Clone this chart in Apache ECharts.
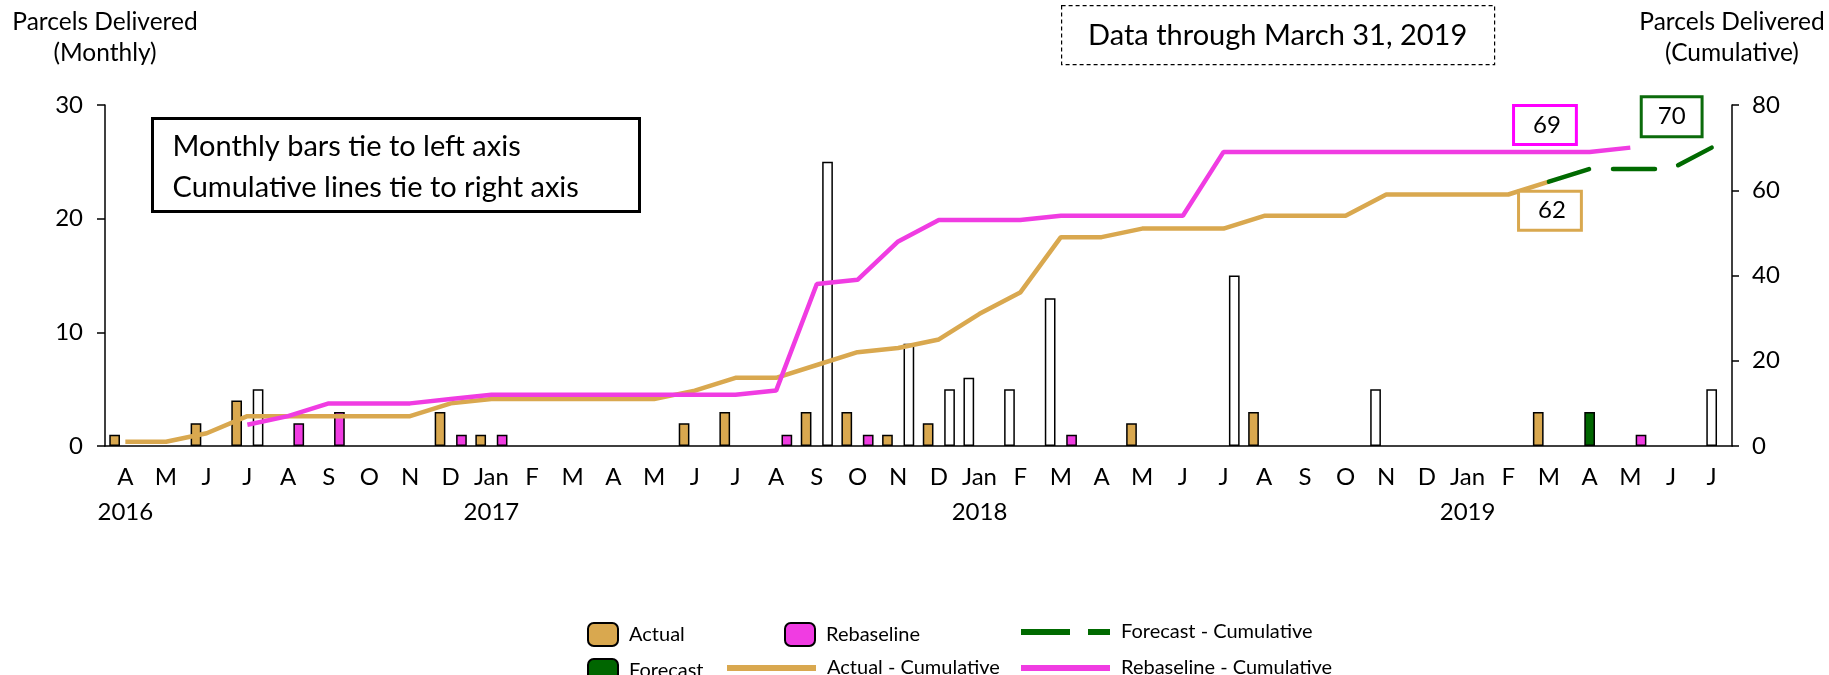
<!DOCTYPE html>
<html>
<head>
<meta charset="utf-8">
<script src="https://cdn.jsdelivr.net/npm/echarts@6/dist/echarts.min.js"></script>
<style>
  html, body { margin: 0; padding: 0; background: #fff; }
  #chart { width: 1829px; height: 675px; }
</style>
</head>
<body>
<div id="chart"></div>
<script>
// Apr 2016 .. Jul 2019
var months = [
  'A','M','J','J','A','S','O','N','D',
  'Jan','F','M','A','M','J','J','A','S','O','N','D',
  'Jan','F','M','A','M','J','J','A','S','O','N','D',
  'Jan','F','M','A','M','J','J'
];
var yearStart = [0, 9, 21, 33];
var yearNames = ['2016', '2017', '2018', '2019'];

// monthly bars (left axis)
var actual = [
  1, null, 2, 4, null, null, null, null, 3,
  1, null, null, null, null, 2, 3, null, 3, 3, 1, 2,
  null, null, null, null, 2, null, null, 3, null, null, null, null,
  null, null, 3, null, null, null, null
];
var actualOpen = [
  null, null, null, null, null, null, null, null, null,
  null, null, null, null, null, null, null, null, null, null, null, null,
  6, 5, 13, null, null, null, null, null, null, null, 5, null,
  null, null, null, null, null, null, null
];
var forecast = [
  null, null, null, null, null, null, null, null, null,
  null, null, null, null, null, null, null, null, null, null, null, null,
  null, null, null, null, null, null, null, null, null, null, null, null,
  null, null, null, 3, null, null, null
];
var forecastOpen = [
  null, null, null, null, null, null, null, null, null,
  null, null, null, null, null, null, null, null, null, null, null, null,
  null, null, null, null, null, null, null, null, null, null, null, null,
  null, null, null, null, null, null, 5
];
var rebaseline = [
  null, null, null, null, 2, 3, null, null, 1,
  1, null, null, null, null, null, null, 1, null, 1, null, null,
  null, null, 1, null, null, null, null, null, null, null, null, null,
  null, null, null, null, 1, null, null
];
var rebaselineOpen = [
  null, null, null, 5, null, null, null, null, null,
  null, null, null, null, null, null, null, null, 25, null, 9, 5,
  null, null, null, null, null, null, 15, null, null, null, null, null,
  null, null, null, null, null, null, null
];

// cumulative lines (right axis)
var actualCum = [
  1, 1, 3, 7, 7, 7, 7, 7, 10,
  11, 11, 11, 11, 11, 13, 16, 16, 19, 22, 23, 25,
  31, 36, 49, 49, 51, 51, 51, 54, 54, 54, 59, 59,
  59, 59, 62, null, null, null, null
];
var rebaselineCum = [
  null, null, null, 5, 7, 10, 10, 10, 11,
  12, 12, 12, 12, 12, 12, 12, 13, 38, 39, 48, 53,
  53, 53, 54, 54, 54, 54, 69, 69, 69, 69, 69, 69,
  69, 69, 69, 69, 70, null, null
];
var forecastCum = [
  null, null, null, null, null, null, null, null, null,
  null, null, null, null, null, null, null, null, null, null, null, null,
  null, null, null, null, null, null, null, null, null, null, null, null,
  null, null, 62, 65, 65, 65, 70
];

var FONT = 'Lato';
var TAN = '#D9A84F', MAGENTA = '#F03CE2', GREEN = '#006600';

function barData(filled, open) {
  return filled.map(function (v, i) {
    if (open[i] != null) return { value: open[i], itemStyle: { color: '#fff' } };
    return v;
  });
}

function boxLabel(color, offset, padding) {
  return {
    show: true, position: 'inside', offset: offset, formatter: '{c}',
    fontFamily: FONT, fontSize: 24, color: '#000', lineHeight: 24,
    backgroundColor: '#fff', borderColor: color, borderWidth: 3, padding: padding
  };
}

function legendAt(name, left, top, w, lineStyle) {
  var lg = {
    data: [name], left: left, top: top, itemWidth: w, itemHeight: 23,
    selectedMode: false,
    textStyle: { fontFamily: FONT, fontSize: 20, color: '#000', padding: [0, 0, 0, 6] }
  };
  if (lineStyle) {
    lg.itemStyle = { opacity: 0 };
    lg.lineStyle = lineStyle;
  }
  return lg;
}

var chart = echarts.init(document.getElementById('chart'));
var option = {
  animation: false,
  textStyle: { fontFamily: FONT },
  grid: { left: 105, right: 97, top: 105, bottom: 229 },
  legend: [
    legendAt('Actual', 582, 617, 30, null),
    legendAt('Rebaseline', 779, 617, 30, null),
    legendAt('Forecast - Cumulative', 1013, 617, 89, { width: 6, type: [49, 18], cap: 'butt' }),
    legendAt('Forecast', 582, 653, 30, null),
    legendAt('Actual - Cumulative', 719, 653, 89, { width: 6 }),
    legendAt('Rebaseline - Cumulative', 1013, 653, 89, { width: 6 })
  ],
  xAxis: {
    type: 'category',
    data: months,
    boundaryGap: true,
    axisLine: { lineStyle: { color: '#000', width: 1.5 } },
    axisTick: { interval: 0, length: 8, lineStyle: { color: '#000', width: 1.5 } },
    axisLabel: {
      interval: 0, margin: 14, color: '#000', fontSize: 24, lineHeight: 35,
      formatter: function (v, i) {
        var k = yearStart.indexOf(i);
        return k >= 0 ? v + '\n' + yearNames[k] : v;
      }
    }
  },
  yAxis: [
    {
      type: 'value', min: 0, max: 30, interval: 10, position: 'left',
      name: 'Parcels Delivered\n(Monthly)', nameLocation: 'end', nameGap: 36,
      nameTextStyle: { fontFamily: FONT, fontSize: 24.5, color: '#000', lineHeight: 31, align: 'center' },
      axisLine: { show: true, lineStyle: { color: '#000', width: 1.5 } },
      axisTick: { show: true, length: 8, lineStyle: { color: '#000', width: 1.5 } },
      axisLabel: { margin: 22, color: '#000', fontSize: 24 },
      splitLine: { show: false }
    },
    {
      type: 'value', min: 0, max: 80, interval: 20, position: 'right',
      name: 'Parcels Delivered\n(Cumulative)', nameLocation: 'end', nameGap: 36,
      nameTextStyle: { fontFamily: FONT, fontSize: 24.5, color: '#000', lineHeight: 31, align: 'center' },
      axisLine: { show: true, lineStyle: { color: '#000', width: 1.5 } },
      axisTick: { show: true, length: 7, lineStyle: { color: '#000', width: 1.5 } },
      axisLabel: { margin: 20, color: '#000', fontSize: 24 },
      splitLine: { show: false }
    }
  ],
  series: [
    {
      name: 'Actual', type: 'bar', yAxisIndex: 0,
      barGap: '0%', barCategoryGap: '21%',
      itemStyle: { color: TAN, borderColor: '#000', borderWidth: 1.5 },
      data: barData(actual, actualOpen)
    },
    {
      name: 'Forecast', type: 'bar', yAxisIndex: 0,
      barGap: '0%', barCategoryGap: '21%',
      itemStyle: { color: GREEN, borderColor: '#000', borderWidth: 1.5 },
      data: barData(forecast, forecastOpen)
    },
    {
      name: 'Rebaseline', type: 'bar', yAxisIndex: 0,
      barGap: '0%', barCategoryGap: '21%',
      itemStyle: { color: MAGENTA, borderColor: '#000', borderWidth: 1.5 },
      data: barData(rebaseline, rebaselineOpen)
    },
    {
      name: 'Actual - Cumulative', type: 'line', yAxisIndex: 1,
      symbol: 'none', z: 3,
      lineStyle: { color: TAN, width: 4.5 },
      itemStyle: { color: TAN },
      data: actualCum,
      markPoint: {
        symbol: 'rect', symbolSize: 1, itemStyle: { color: 'transparent' },
        label: boxLabel(TAN, [1, 29], [6, 14, 6, 18]),
        data: [{ coord: [35, actualCum[35]], value: actualCum[35] }]
      }
    },
    {
      name: 'Rebaseline - Cumulative', type: 'line', yAxisIndex: 1,
      symbol: 'none', z: 4,
      lineStyle: { color: MAGENTA, width: 4.5 },
      itemStyle: { color: MAGENTA },
      data: rebaselineCum,
      markPoint: {
        symbol: 'rect', symbolSize: 1, itemStyle: { color: 'transparent' },
        label: boxLabel('#FF00FF', [-4, -27], [6, 14, 6, 18]),
        data: [{ coord: [35, rebaselineCum[35]], value: rebaselineCum[35] }]
      }
    },
    {
      name: 'Forecast - Cumulative', type: 'line', yAxisIndex: 1,
      symbol: 'none', z: 4,
      lineStyle: { color: '#006A00', width: 4.5, type: [42, 24], cap: 'round' },
      itemStyle: { color: '#006A00' },
      data: forecastCum,
      markPoint: {
        symbol: 'rect', symbolSize: 1, itemStyle: { color: 'transparent' },
        label: boxLabel('#0B6B0B', [-40, -31], [0, 15, 13, 15]),
        data: [{ coord: [39, forecastCum[39]], value: forecastCum[39] }]
      }
    }
  ],
  graphic: [
    {
      type: 'group', left: 151, top: 117,
      children: [
        { type: 'rect', shape: { x: 0, y: 0, width: 487, height: 93 },
          style: { fill: '#fff', stroke: '#000', lineWidth: 3 } },
        { type: 'text', x: 20, y: 8,
          style: { text: 'Monthly bars tie to left axis\nCumulative lines tie to right axis',
                   font: '29px Lato', fill: '#000', lineHeight: 41 } }
      ]
    },
    {
      type: 'group', left: 1061, top: 5,
      children: [
        { type: 'rect', shape: { x: 0, y: 0, width: 433, height: 59 },
          style: { fill: '#fff', stroke: '#000', lineWidth: 1.2, lineDash: [4, 3] } },
        { type: 'text', x: 216, y: 30,
          style: { text: 'Data through March 31, 2019', font: '29px Lato', fill: '#000',
                   textAlign: 'center', textVerticalAlign: 'middle' } }
      ]
    }
  ]
};
chart.setOption(option);
</script>
</body>
</html>
